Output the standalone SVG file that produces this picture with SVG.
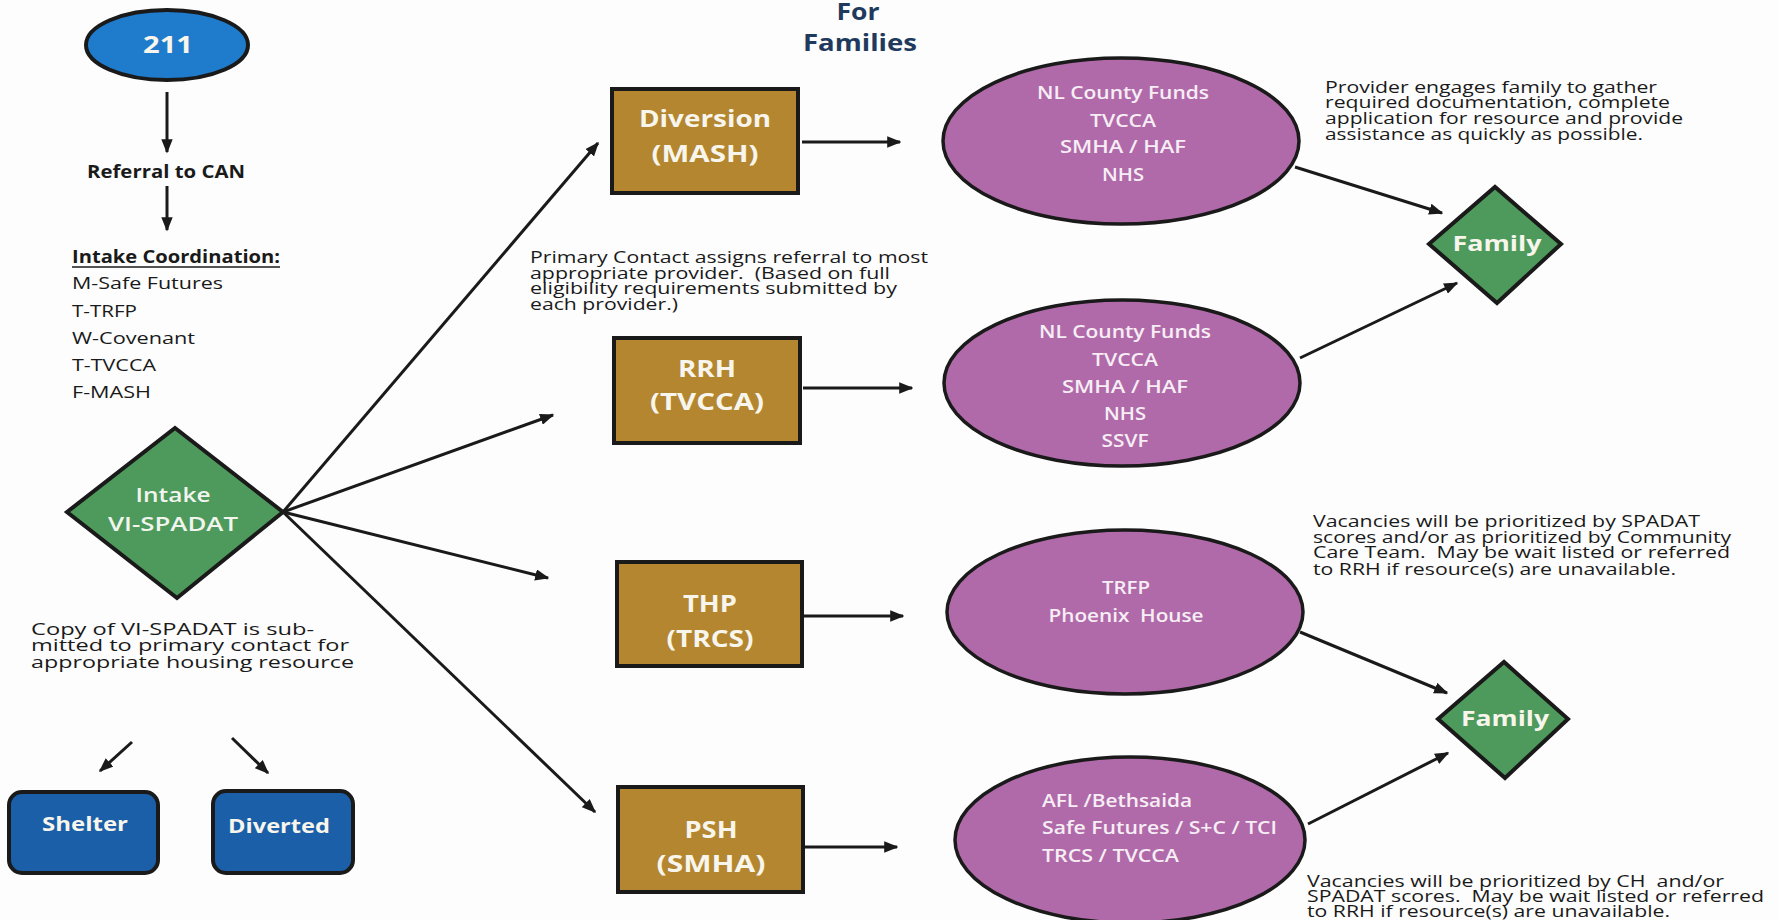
<svg xmlns="http://www.w3.org/2000/svg" width="1779" height="920" viewBox="0 0 1779 920" xml:space="preserve">
<style>
text{font-family:"Open Sans","Liberation Sans",sans-serif;white-space:pre;}
.lbl{fill:#f7f5ec;font-weight:700;text-anchor:middle;}
.ell{fill:#f7eef5;font-weight:600;font-size:18px;}
.body{fill:#1a1a1a;font-size:16px;}
.edge{stroke:#1a1a1a;stroke-width:3;fill:none;marker-end:url(#ah);}
.box{fill:#b3862f;stroke:#1a1a1a;stroke-width:4;}
.pur{fill:#b06aa9;stroke:#1a1a1a;stroke-width:3.5;}
.grn{fill:#4e9a5c;stroke:#1a1a1a;stroke-width:4;}
.blu{fill:#1b5fa8;stroke:#1a1a1a;stroke-width:4;}
</style>
<defs>
<marker id="ah" viewBox="0 0 10 8" refX="9" refY="4" markerWidth="4.8" markerHeight="3.8" orient="auto">
<path d="M0,0 L10,4 L0,8 z" fill="#1a1a1a"/>
</marker>
</defs>
<rect x="0" y="0" width="1779" height="920" fill="#fdfdfd"/>

<g id="title">
<text x="858" y="20" text-anchor="middle" font-size="24" font-weight="700" fill="#1f3a5c" textLength="43" lengthAdjust="spacingAndGlyphs">For</text>
<text x="860" y="51" text-anchor="middle" font-size="24" font-weight="700" fill="#1f3a5c" textLength="114" lengthAdjust="spacingAndGlyphs">Families</text>
</g>

<g id="connectors">
<line class="edge" x1="167" y1="92" x2="167" y2="152"/>
<line class="edge" x1="167" y1="186" x2="167" y2="230"/>
<line class="edge" x1="283" y1="512" x2="598" y2="143"/>
<line class="edge" x1="283" y1="512" x2="553" y2="415"/>
<line class="edge" x1="283" y1="512" x2="548" y2="578"/>
<line class="edge" x1="283" y1="512" x2="595" y2="812"/>
<line class="edge" x1="132" y1="742" x2="100" y2="771"/>
<line class="edge" x1="232" y1="738" x2="268" y2="773"/>
<line class="edge" x1="802" y1="142" x2="900" y2="142"/>
<line class="edge" x1="803" y1="388" x2="912" y2="388"/>
<line class="edge" x1="803" y1="616" x2="903" y2="616"/>
<line class="edge" x1="797" y1="847" x2="897" y2="847"/>
<line class="edge" x1="1295" y1="167" x2="1442" y2="213"/>
<line class="edge" x1="1300" y1="358" x2="1457" y2="283"/>
<line class="edge" x1="1300" y1="632" x2="1447" y2="693"/>
<line class="edge" x1="1308" y1="824" x2="1448" y2="753"/>
</g>

<g id="n211">
<ellipse cx="167" cy="45" rx="81" ry="35" fill="#1f7ccc" stroke="#1a1a1a" stroke-width="4"/>
<text class="lbl" x="168" y="53" font-size="24" textLength="50" lengthAdjust="spacingAndGlyphs">211</text>
</g>

<g id="referral">
<text x="166" y="178" text-anchor="middle" font-size="17" font-weight="700" fill="#1a1a1a" textLength="158" lengthAdjust="spacingAndGlyphs">Referral to CAN</text>
</g>

<g id="intake-coordination">
<text x="72" y="263" font-size="17" font-weight="700" fill="#1a1a1a" textLength="208" lengthAdjust="spacingAndGlyphs">Intake Coordination:</text>
<line x1="72" y1="267" x2="280" y2="267" stroke="#1a1a1a" stroke-width="1.5"/>
<text class="body" x="72" y="289" font-size="18" textLength="151" lengthAdjust="spacingAndGlyphs">M-Safe Futures</text>
<text class="body" x="72" y="317" font-size="18" textLength="65" lengthAdjust="spacingAndGlyphs">T-TRFP</text>
<text class="body" x="72" y="344" font-size="18" textLength="123" lengthAdjust="spacingAndGlyphs">W-Covenant</text>
<text class="body" x="72" y="371" font-size="18" textLength="84" lengthAdjust="spacingAndGlyphs">T-TVCCA</text>
<text class="body" x="72" y="398" font-size="18" textLength="79" lengthAdjust="spacingAndGlyphs">F-MASH</text>
</g>

<g id="intake">
<polygon class="grn" points="67,512 175,428 283,512 177,598"/>
<text x="173" y="502" text-anchor="middle" font-size="19" font-weight="600" fill="#f1f5ee" textLength="75" lengthAdjust="spacingAndGlyphs">Intake</text>
<text x="173" y="531" text-anchor="middle" font-size="19" font-weight="600" fill="#f1f5ee" textLength="130" lengthAdjust="spacingAndGlyphs">VI-SPADAT</text>
</g>

<g id="copy-note">
<text class="body" x="31" y="635" textLength="283" lengthAdjust="spacingAndGlyphs">Copy of VI-SPADAT is sub-</text>
<text class="body" x="31" y="651" textLength="318" lengthAdjust="spacingAndGlyphs">mitted to primary contact for</text>
<text class="body" x="31" y="668" textLength="323" lengthAdjust="spacingAndGlyphs">appropriate housing resource</text>
</g>

<g id="shelter">
<rect class="blu" x="9" y="792" width="149" height="81" rx="13"/>
<text class="lbl" x="85" y="831" font-size="20" textLength="86" lengthAdjust="spacingAndGlyphs">Shelter</text>
</g>

<g id="diverted">
<rect class="blu" x="213" y="791" width="140" height="82" rx="13"/>
<text class="lbl" x="279" y="833" font-size="20" textLength="102" lengthAdjust="spacingAndGlyphs">Diverted</text>
</g>

<g id="diversion">
<rect class="box" x="612" y="89" width="186" height="104"/>
<text class="lbl" x="705" y="127" font-size="24" textLength="132" lengthAdjust="spacingAndGlyphs">Diversion</text>
<text class="lbl" x="705" y="162" font-size="24" textLength="107" lengthAdjust="spacingAndGlyphs">(MASH)</text>
</g>

<g id="primary-note">
<text class="body" x="530" y="263" textLength="398" lengthAdjust="spacingAndGlyphs">Primary Contact assigns referral to most</text>
<text class="body" x="530" y="279" textLength="360" lengthAdjust="spacingAndGlyphs">appropriate provider.  (Based on full</text>
<text class="body" x="530" y="294" textLength="367" lengthAdjust="spacingAndGlyphs">eligibility requirements submitted by</text>
<text class="body" x="530" y="310" textLength="148" lengthAdjust="spacingAndGlyphs">each provider.)</text>
</g>

<g id="rrh">
<rect class="box" x="614" y="338" width="186" height="105"/>
<text class="lbl" x="707" y="377" font-size="24" textLength="58" lengthAdjust="spacingAndGlyphs">RRH</text>
<text class="lbl" x="707" y="410" font-size="24" textLength="114" lengthAdjust="spacingAndGlyphs">(TVCCA)</text>
</g>

<g id="thp">
<rect class="box" x="617" y="562" width="185" height="104"/>
<text class="lbl" x="710" y="612" font-size="24" textLength="54" lengthAdjust="spacingAndGlyphs">THP</text>
<text class="lbl" x="710" y="647" font-size="24" textLength="87" lengthAdjust="spacingAndGlyphs">(TRCS)</text>
</g>

<g id="psh">
<rect class="box" x="618" y="787" width="185" height="105"/>
<text class="lbl" x="711" y="838" font-size="24" textLength="53" lengthAdjust="spacingAndGlyphs">PSH</text>
<text class="lbl" x="711" y="872" font-size="24" textLength="109" lengthAdjust="spacingAndGlyphs">(SMHA)</text>
</g>

<g id="res-diversion">
<ellipse class="pur" cx="1121" cy="141" rx="178" ry="83"/>
<text class="ell" x="1123" y="99" text-anchor="middle" textLength="172" lengthAdjust="spacingAndGlyphs">NL County Funds</text>
<text class="ell" x="1123" y="127" text-anchor="middle" textLength="66" lengthAdjust="spacingAndGlyphs">TVCCA</text>
<text class="ell" x="1123" y="153" text-anchor="middle" textLength="126" lengthAdjust="spacingAndGlyphs">SMHA / HAF</text>
<text class="ell" x="1123" y="181" text-anchor="middle" textLength="42" lengthAdjust="spacingAndGlyphs">NHS</text>
</g>

<g id="res-rrh">
<ellipse class="pur" cx="1122" cy="383" rx="178" ry="83"/>
<text class="ell" x="1125" y="338" text-anchor="middle" textLength="172" lengthAdjust="spacingAndGlyphs">NL County Funds</text>
<text class="ell" x="1125" y="366" text-anchor="middle" textLength="66" lengthAdjust="spacingAndGlyphs">TVCCA</text>
<text class="ell" x="1125" y="393" text-anchor="middle" textLength="126" lengthAdjust="spacingAndGlyphs">SMHA / HAF</text>
<text class="ell" x="1125" y="420" text-anchor="middle" textLength="42" lengthAdjust="spacingAndGlyphs">NHS</text>
<text class="ell" x="1125" y="447" text-anchor="middle" textLength="47" lengthAdjust="spacingAndGlyphs">SSVF</text>
</g>

<g id="res-thp">
<ellipse class="pur" cx="1125" cy="612" rx="178" ry="82"/>
<text class="ell" x="1126" y="594" text-anchor="middle" textLength="48" lengthAdjust="spacingAndGlyphs">TRFP</text>
<text class="ell" x="1126" y="622" text-anchor="middle" textLength="155" lengthAdjust="spacingAndGlyphs">Phoenix  House</text>
</g>

<g id="res-psh">
<ellipse class="pur" cx="1130" cy="840" rx="175" ry="83"/>
<text class="ell" x="1042" y="807" textLength="150" lengthAdjust="spacingAndGlyphs">AFL /Bethsaida</text>
<text class="ell" x="1042" y="834" textLength="235" lengthAdjust="spacingAndGlyphs">Safe Futures / S+C / TCI</text>
<text class="ell" x="1042" y="862" textLength="137" lengthAdjust="spacingAndGlyphs">TRCS / TVCCA</text>
</g>

<g id="family-1">
<polygon class="grn" points="1429,244 1495,187 1561,244 1497,303" fill="#479561"/>
<text class="lbl" x="1497" y="251" font-size="22" textLength="89" lengthAdjust="spacingAndGlyphs">Family</text>
</g>

<g id="family-2">
<polygon class="grn" points="1438,719 1504,662 1568,719 1505,778"/>
<text class="lbl" x="1505" y="726" font-size="22" textLength="88" lengthAdjust="spacingAndGlyphs">Family</text>
</g>

<g id="note-provider">
<text class="body" x="1325" y="93" textLength="332" lengthAdjust="spacingAndGlyphs">Provider engages family to gather</text>
<text class="body" x="1325" y="108" textLength="345" lengthAdjust="spacingAndGlyphs">required documentation, complete</text>
<text class="body" x="1325" y="124" textLength="358" lengthAdjust="spacingAndGlyphs">application for resource and provide</text>
<text class="body" x="1325" y="140" textLength="318" lengthAdjust="spacingAndGlyphs">assistance as quickly as possible.</text>
</g>

<g id="note-thp">
<text class="body" x="1313" y="527" textLength="387" lengthAdjust="spacingAndGlyphs">Vacancies will be prioritized by SPADAT</text>
<text class="body" x="1313" y="543" textLength="418" lengthAdjust="spacingAndGlyphs">scores and/or as prioritized by Community</text>
<text class="body" x="1313" y="558" textLength="417" lengthAdjust="spacingAndGlyphs">Care Team.  May be wait listed or referred</text>
<text class="body" x="1313" y="575" textLength="363" lengthAdjust="spacingAndGlyphs">to RRH if resource(s) are unavailable.</text>
</g>

<g id="note-psh">
<text class="body" x="1307" y="887" textLength="417" lengthAdjust="spacingAndGlyphs">Vacancies will be prioritized by CH  and/or</text>
<text class="body" x="1307" y="902" textLength="457" lengthAdjust="spacingAndGlyphs">SPADAT scores.  May be wait listed or referred</text>
<text class="body" x="1307" y="917" textLength="363" lengthAdjust="spacingAndGlyphs">to RRH if resource(s) are unavailable.</text>
</g>
</svg>
